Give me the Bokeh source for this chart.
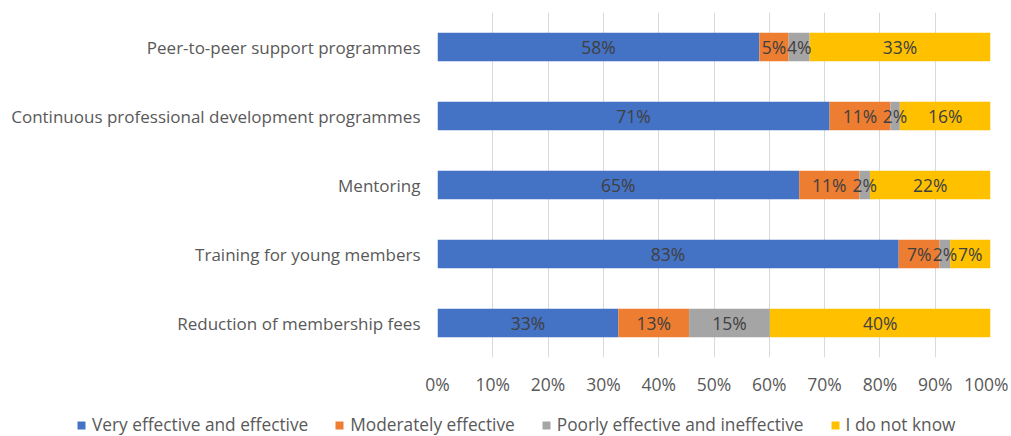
from bokeh.plotting import figure
from bokeh.models import (ColumnDataSource, LabelSet, Legend, LegendItem,
                          FactorRange, Range1d, FixedTicker)
from bokeh.core.properties import value
from bokeh.embed import file_html
from bokeh.resources import INLINE

categories = [
    "Peer-to-peer support programmes",
    "Continuous professional development programmes",
    "Mentoring",
    "Training for young members",
    "Reduction of membership fees",
]
very_effective = [58.2, 70.9, 65.4, 83.4, 32.7]
moderately_effective = [5.3, 11.0, 10.9, 7.4, 12.8]
poorly_effective = [3.8, 1.7, 1.9, 1.9, 14.6]
do_not_know = [32.7, 16.4, 21.8, 7.3, 39.9]
series_names = ["Very effective and effective", "Moderately effective",
                "Poorly effective and ineffective", "I do not know"]
colors = ["#4472C4", "#ED7D31", "#A5A5A5", "#FFC000"]
x_ticks = [0, 10, 20, 30, 40, 50, 60, 70, 80, 90, 100]
x_tick_labels = ["0%", "10%", "20%", "30%", "40%", "50%", "60%", "70%", "80%", "90%", "100%"]

FONT = "Open Sans"
TXT = "#595959"
W = 1008

keys = ["s0", "s1", "s2", "s3"]
series = [very_effective, moderately_effective, poorly_effective, do_not_know]
data = {"cat": categories}
for k, s in zip(keys, series):
    data[k] = s
src = ColumnDataSource(data)

p = figure(width=W, height=404, output_backend="svg", toolbar_location=None,
           y_range=FactorRange(factors=list(reversed(categories))),
           x_range=Range1d(0, 100),
           min_border_left=437, min_border_right=18, min_border_top=12,
           min_border_bottom=47)
p.outline_line_color = None

renderers = p.hbar_stack(keys, y="cat", height=0.41, color=colors, source=src,
                         line_color=None)

# segment labels
lx, ly, lt = [], [], []
for i, cat in enumerate(categories):
    left = 0.0
    for s in series:
        v = s[i]
        lx.append(left + v / 2)
        ly.append(cat)
        lt.append(f"{round(v)}%")
        left += v
lsrc = ColumnDataSource(dict(x=lx, y=ly, t=lt))
labels = LabelSet(x="x", y="y", text="t", source=lsrc, text_align="center",
                  text_baseline="middle", text_font=value(FONT),
                  text_font_size=value("17.5px"), text_color="#404040")
p.add_layout(labels)

# axes
p.xaxis.ticker = FixedTicker(ticks=x_ticks)
p.xaxis.major_label_overrides = {t: l for t, l in zip(x_ticks, x_tick_labels)}
p.xaxis.axis_line_color = None
p.xaxis.major_tick_line_color = None
p.xaxis.minor_tick_line_color = None
p.xaxis.major_tick_out = 0
p.xaxis.major_tick_in = 0
p.xaxis.major_label_standoff = 14
p.xaxis.major_label_text_font = FONT
p.xaxis.major_label_text_font_size = "17.5px"
p.xaxis.major_label_text_color = TXT

p.yaxis.axis_line_color = None
p.yaxis.major_tick_line_color = None
p.yaxis.minor_tick_line_color = None
p.yaxis.major_tick_out = 0
p.yaxis.major_tick_in = 0
p.yaxis.major_label_standoff = 17
p.yaxis.major_label_text_font = FONT
p.yaxis.major_label_text_font_size = "17px"
p.yaxis.major_label_text_color = TXT

p.xgrid.grid_line_color = "#D9D9D9"
p.ygrid.grid_line_color = None

# legend strip (its own plot so the legend can span the full width)
p2 = figure(width=W, height=32, output_backend="svg", toolbar_location=None,
            x_range=Range1d(-2, -1), y_range=FactorRange(factors=categories),
            min_border=0)
p2.outline_line_color = None
p2.axis.visible = False
p2.grid.grid_line_color = None
leg_rs = p2.hbar_stack(keys, y="cat", height=0.41, color=colors, source=src,
                       line_color=None)
legend = Legend(items=[LegendItem(label=n, renderers=[r]) for n, r in zip(series_names, leg_rs)],
                orientation="horizontal", location=(76, 0),
                glyph_width=10, glyph_height=10, label_standoff=6, spacing=26,
                label_text_font=FONT, label_text_font_size="17.3px",
                label_text_color=TXT, border_line_color=None,
                background_fill_alpha=0, padding=0, margin=0)
p2.add_layout(legend)

open("out.html", "w").write(file_html([p, p2], INLINE))
